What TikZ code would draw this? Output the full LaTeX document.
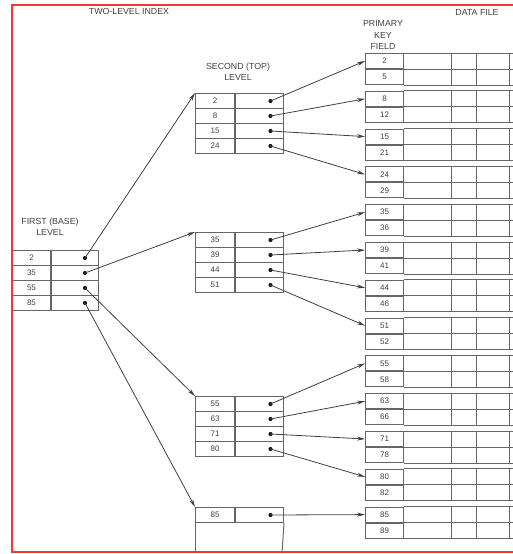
\documentclass[tikz,border=0pt]{standalone}
\usepackage{fontspec}
\setmainfont{Liberation Sans}
\usetikzlibrary{arrows.meta}

\tikzset{
  idxcell/.style={draw=black!60, line width=1pt, minimum height=15pt, inner sep=0pt,
                  anchor=north west, font=\fontsize{8}{9}\selectfont, text=black!75},
  keycell/.style={idxcell, minimum width=39pt},
  ptrcell/.style={idxcell, minimum width=48pt},
  datakey/.style={idxcell, minimum width=38pt},
  gridline/.style={draw=black!60, line width=1pt},
  ptrdot/.style={circle, fill=black!90, inner sep=0pt, minimum size=4.2pt},
  ptrarrow/.style={draw=black!75, line width=0.8pt, -{Stealth[length=8pt,width=4pt]}},
  heading/.style={font=\fontsize{8.8}{10.5}\selectfont, text=black!75, align=center, inner sep=0pt}
}

\begin{document}
\begin{tikzpicture}[x=1pt, y=-1pt]
    \useasboundingbox (0,0) rectangle (513,554);

    % headings
    \node[heading] (twolevel) at (129,11) {TWO-LEVEL INDEX};
    \node[heading] (datafile) at (477,12) {DATA FILE};
    \node[heading, font=\fontsize{8.8}{11.5}\selectfont] (keyfield) at (383,35) {PRIMARY\\KEY\\FIELD};
    \node[heading] (toplevel) at (238,72) {SECOND (TOP)\\LEVEL};
    \node[heading] (baselevel) at (50,227) {FIRST (BASE)\\LEVEL};

    % first level
    \foreach \k [count=\i from 0] in {2,35,55,85}{
        \node[keycell, minimum width=38pt] (f\k) at (12,250+15*\i) {\k};
        \node[ptrcell, minimum width=47pt] (fp\k) at (f\k.north east) {};
        \node[ptrdot] (fd\k) at ([xshift=10pt]fp\k.center) {};
    }

    % second level
    \foreach \top/\keys in {93/{2,8,15,24}, 232/{35,39,44,51}, 396/{55,63,71,80}, 507/{85}}{
        \foreach \k [count=\i from 0] in \keys {
            \node[keycell] (s\k) at (195,\top+15*\i) {\k};
            \node[ptrcell] (sp\k) at (s\k.north east) {};
            \node[ptrdot] (sd\k) at ([xshift=11pt]sp\k.center) {};
        }
    }
    \draw[gridline] (s85.south west) -- (195,553);
    \draw[gridline] (sp85.south east) -- (282,553);

    % data file
    \foreach \a/\b [count=\i from 0] in {2/5,8/12,15/21,24/29,35/36,39/41,44/46,51/52,55/58,63/66,71/78,80/82,85/89}{
        \node[datakey] (d\a) at (365,53+37.8*\i) {\a};
        \node[datakey, anchor=north] (d\b) at (d\a.south) {\b};
        \draw[gridline] (d\a.north east) -- ++(160,0) (d\a.south east) -- ++(160,0) (d\b.south east) -- ++(160,0);
        \foreach \dx in {47,72,105}{
            \draw[gridline] ([xshift=\dx pt]d\a.north east) -- ([xshift=\dx pt]d\b.south east);
        }
    }

    % pointers
    \foreach \k in {2,35,55,85}{
        \draw[ptrarrow] (fd\k.center) -- (s\k.north west);
    }
    \foreach \k in {2,8,15,24,35,39,44,51,55,63,71,80,85}{
        \draw[ptrarrow] (sd\k.center) -- (d\k.west);
    }

    % frame
    \draw[red!80, line width=2pt] (520,4.5) -- (12,4.5) -- (12,552) -- (520,552);
\end{tikzpicture}
\end{document}
